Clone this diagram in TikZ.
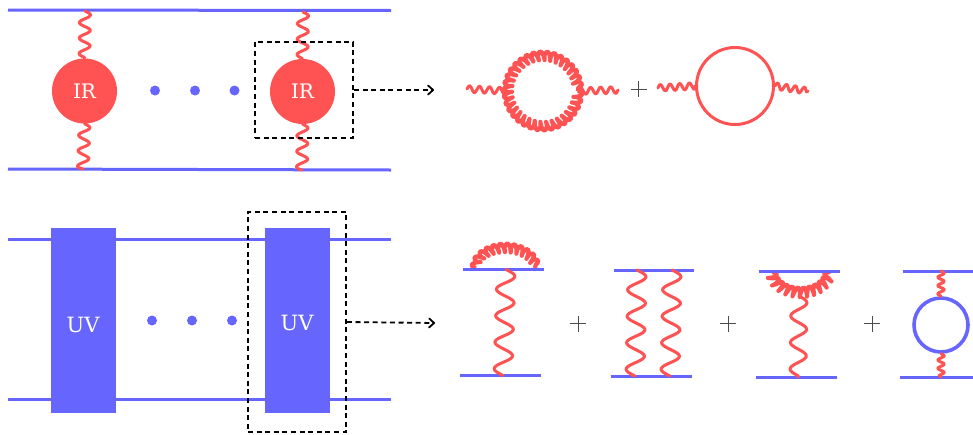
\documentclass[tikz,border=0pt]{standalone}
\usepackage{fontspec}
\setmainfont{DejaVu Serif}
\usetikzlibrary{decorations.pathmorphing,arrows.meta}
\definecolor{rd}{HTML}{FF5252}
\definecolor{bl}{HTML}{6666FF}
\makeatletter
\pgfdeclaredecoration{sinewave}{step}{
  \state{step}[width=0.8pt,next state=step]{
    \pgfmathsetmacro{\wv@y}{\pgfdecorationsegmentamplitude*sin(360*(\pgfdecoratedcompleteddistance/\pgfdecorationsegmentlength))}
    \pgfpathlineto{\pgfqpoint{0pt}{\wv@y pt}}
  }
  \state{final}{\pgfpathlineto{\pgfpointdecoratedpathlast}}
}
\makeatother
\tikzset{
  x=1pt,y=-1pt,
  fermion/.style={draw=bl,line width=3pt},
  wavy/.style 2 args={draw=rd,line width=3pt,line cap=round,line join=round,decorate,decoration={sinewave,segment length=#1,amplitude=#2}},
  gluon/.style={draw=rd,line width=4.2pt,line join=round,decorate,decoration={coil,aspect=0.25,segment length=6.4pt,amplitude=4.6pt}},
  irblob/.style={circle,fill=rd,inner sep=0pt,minimum size=65pt,text=white,font=\fontsize{20}{20}\selectfont},
  uvblock/.style={rectangle,fill=bl,inner sep=0pt,minimum width=65pt,minimum height=185pt},
  uvtext/.style={inner sep=0pt,text=white,font=\fontsize{21}{21}\selectfont},
  dotmark/.style={circle,fill=bl,inner sep=0pt,minimum size=10pt},
  dashbox/.style={draw=black,line width=1.8pt,dash pattern=on 5pt off 3.6pt},
  dasharrow/.style={draw=black,line width=1.8pt,dash pattern=on 5pt off 3.6pt,-{Straight Barb[length=5pt,width=9pt,line width=1.8pt,round]}},
  pluslines/.style={draw=black!70,line width=0.8pt},
}
\newcommand{\plusat}[2]{\draw[pluslines] (#1-8,#2)--(#1+8,#2) (#1,#2-8)--(#1,#2+8);}
\begin{document}
\begin{tikzpicture}
\useasboundingbox (0,0) rectangle (973,434);
% top left
\coordinate (tl1) at (8,10); \coordinate (tr1) at (391,10.5);
\coordinate (tl2) at (8,169); \coordinate (tr2) at (391,170);
\draw[fermion] (tl1)--(tr1);
\draw[fermion] (tl2)--(tr2);
\coordinate (a1) at (85,11); \coordinate (a2) at (303,12);
\coordinate (b1) at (83,169); \coordinate (b2) at (302,170);
\node[irblob] (ir1) at (84.5,91) {IR};
\node[irblob] (ir2) at (302.5,91.5) {IR};
\draw[wavy={15.5pt}{5.5pt}] (a1)--(ir1.north);
\draw[wavy={15.5pt}{5.5pt}] (ir1.south)--(b1);
\draw[wavy={15.5pt}{5.5pt}] (a2)--(ir2.north);
\draw[wavy={15.5pt}{5.5pt}] (ir2.south)--(b2);
\node[dotmark] (d1) at (155,90.5) {};
\node[dotmark] (d2) at (195,90.5) {};
\node[dotmark] (d3) at (234.5,90.5) {};
\node[dashbox,minimum width=98pt,minimum height=96pt,inner sep=0pt] (bx1) at (304,90) {};
\coordinate (ah1) at (434,90);
\draw[dasharrow] (bx1.east)--(ah1);
% top right
\node[circle,minimum size=70pt,inner sep=0pt] (gc) at (543,91) {};
\draw[gluon] (543,91) circle[radius=35];
\coordinate (g1) at (467,89); \coordinate (g2) at (618,90);
\draw[wavy={10pt}{3.3pt}] (g1)--(gc.west);
\draw[wavy={10pt}{3.3pt}] (gc.east)--(g2);
\plusat{638.5}{89}
\node[circle,draw=rd,line width=3pt,minimum size=77pt,inner sep=0pt] (qc) at (735,86) {};
\coordinate (q1) at (658,88); \coordinate (q2) at (808,91);
\draw[wavy={9.7pt}{3.3pt}] (q1)--(qc.west);
\draw[wavy={9pt}{3.3pt}] (qc.east)--(q2);
% bottom left
\coordinate (l1) at (8,239); \coordinate (r1) at (391,239);
\coordinate (l2) at (8,399); \coordinate (r2) at (391,399);
\draw[fermion] (l1)--(r1);
\draw[fermion] (l2)--(r2);
\node[uvblock] (uv1) at (83.75,320) {};
\node[uvblock] (uv2) at (297.5,320) {};
\node[uvtext] (uvt1) at (83,325) {UV};
\node[uvtext] (uvt2) at (297,323) {UV};
\node[dotmark] (d4) at (152,320.5) {};
\node[dotmark] (d5) at (192,320.5) {};
\node[dotmark] (d6) at (232,320.5) {};
\node[dashbox,minimum width=98pt,minimum height=220pt,inner sep=0pt] (bx2) at (297,322) {};
\coordinate (ah2) at (435,323);
\draw[dasharrow] (bx2.east)--(ah2);
% diagram A
\coordinate (A1) at (463,269.5); \coordinate (A2) at (544,269.5);
\coordinate (A3) at (460,375.5); \coordinate (A4) at (541,375.5);
\coordinate (Aw1) at (506,269.5); \coordinate (Aw2) at (503,375.5);
\draw[gluon] (476,268) arc[start angle=180,end angle=360,x radius=29.5,y radius=20];
\draw[fermion] (A1)--(A2);
\draw[fermion] (A3)--(A4);
\draw[wavy={26.5pt}{9pt}] (Aw1)--(Aw2);
\plusat{578}{323.5}
% diagram B
\coordinate (B1) at (613.5,270); \coordinate (B2) at (694,270);
\coordinate (B3) at (610.5,376); \coordinate (B4) at (691.5,376);
\coordinate (Bw1) at (637,270); \coordinate (Bw2) at (635,376);
\coordinate (Bw3) at (672,270); \coordinate (Bw4) at (670,376);
\draw[fermion] (B1)--(B2);
\draw[fermion] (B3)--(B4);
\draw[wavy={26.5pt}{9pt}] (Bw1)--(Bw2);
\draw[wavy={26.5pt}{9pt}] (Bw3)--(Bw4);
\plusat{728}{323.5}
% diagram C
\coordinate (C1) at (759,271); \coordinate (C2) at (840,271);
\coordinate (C3) at (756,377); \coordinate (C4) at (837,377);
\coordinate (Cw1) at (799,296); \coordinate (Cw2) at (798,377);
\draw[gluon] (772.5,272) arc[start angle=180,end angle=0,x radius=28,y radius=20];
\draw[fermion] (C1)--(C2);
\draw[fermion] (C3)--(C4);
\draw[wavy={26.6pt}{8pt}] (Cw1)--(Cw2);
\plusat{872}{323.5}
% diagram D
\coordinate (D1) at (902.5,271); \coordinate (D2) at (973,271);
\coordinate (D3) at (899.5,377); \coordinate (D4) at (973,377);
\coordinate (Dw1) at (941,271); \coordinate (Dw2) at (941,377);
\draw[fermion] (D1)--(D2);
\draw[fermion] (D3)--(D4);
\node[circle,draw=bl,line width=3.6pt,minimum size=54pt,inner sep=0pt] (lc) at (941,325) {};
\draw[wavy={8.3pt}{3.2pt}] (Dw1)--(lc.north);
\draw[wavy={8.3pt}{3.2pt}] (lc.south)--(Dw2);
\end{tikzpicture}
\end{document}
